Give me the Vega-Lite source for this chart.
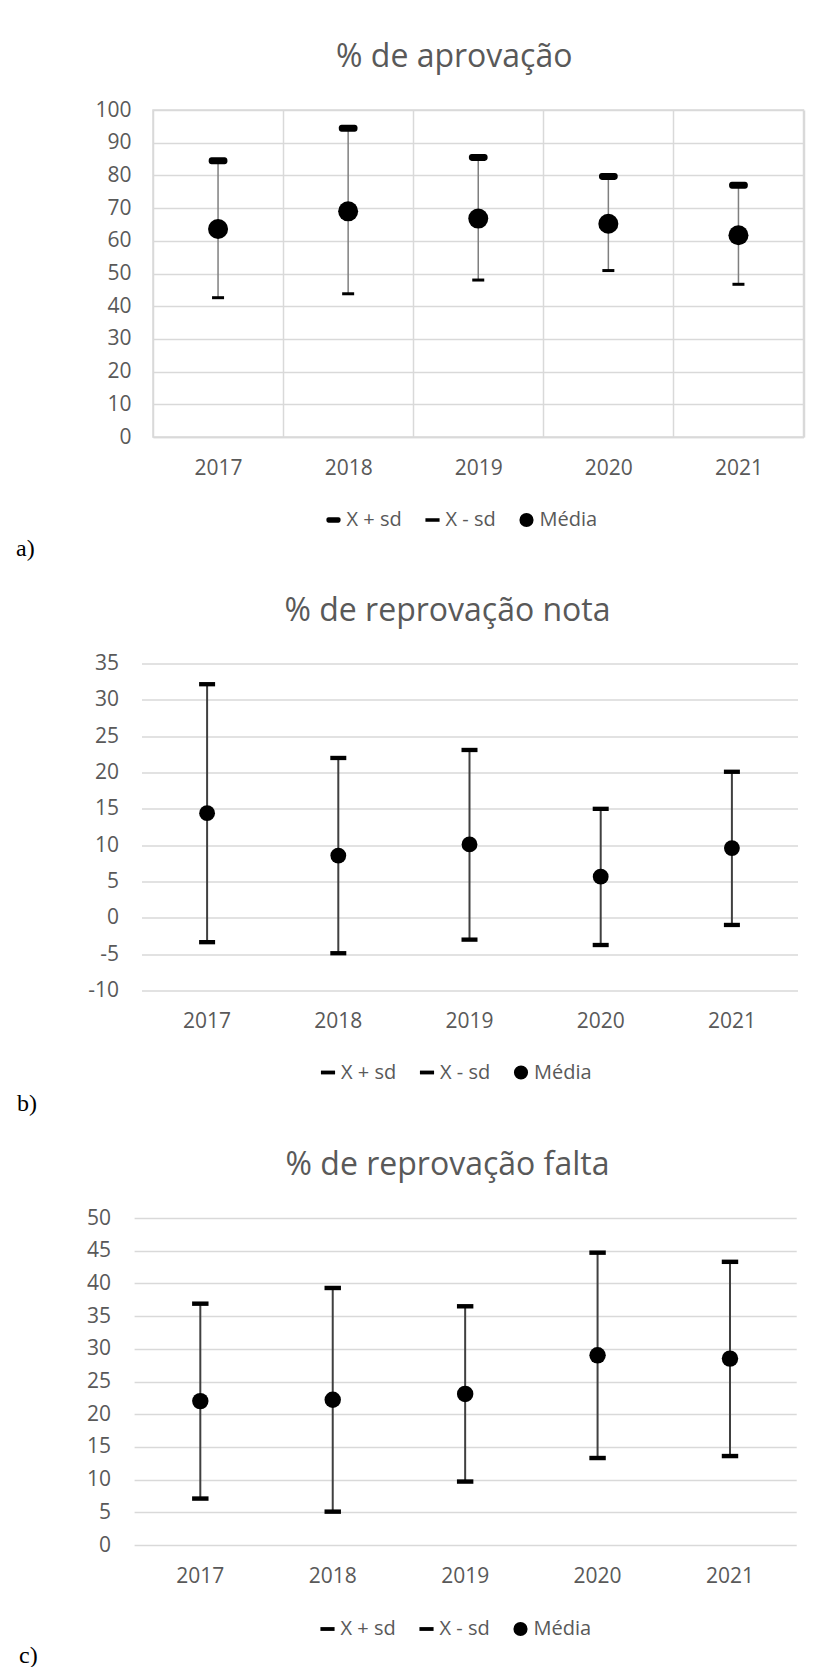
{
  "$schema": "https://vega.github.io/schema/vega-lite/v6.json",
  "padding": {"left": 14, "top": 40, "right": 0, "bottom": 0},
  "background": "white",
  "datasets": {
    "A": [
      {"ano": "2017", "serie": "X + sd", "valor": 84.5}, {"ano": "2017", "serie": "X - sd", "valor": 42.6}, {"ano": "2017", "serie": "Média", "valor": 63.6},
      {"ano": "2018", "serie": "X + sd", "valor": 94.4}, {"ano": "2018", "serie": "X - sd", "valor": 43.8}, {"ano": "2018", "serie": "Média", "valor": 69.0},
      {"ano": "2019", "serie": "X + sd", "valor": 85.5}, {"ano": "2019", "serie": "X - sd", "valor": 48.0}, {"ano": "2019", "serie": "Média", "valor": 66.8},
      {"ano": "2020", "serie": "X + sd", "valor": 79.7}, {"ano": "2020", "serie": "X - sd", "valor": 50.9}, {"ano": "2020", "serie": "Média", "valor": 65.2},
      {"ano": "2021", "serie": "X + sd", "valor": 77.0}, {"ano": "2021", "serie": "X - sd", "valor": 46.7}, {"ano": "2021", "serie": "Média", "valor": 61.7}
    ],
    "B": [
      {"ano": "2017", "serie": "X + sd", "valor": 32.15}, {"ano": "2017", "serie": "X - sd", "valor": -3.35}, {"ano": "2017", "serie": "Média", "valor": 14.4},
      {"ano": "2018", "serie": "X + sd", "valor": 22.0}, {"ano": "2018", "serie": "X - sd", "valor": -4.87}, {"ano": "2018", "serie": "Média", "valor": 8.57},
      {"ano": "2019", "serie": "X + sd", "valor": 23.1}, {"ano": "2019", "serie": "X - sd", "valor": -3.0}, {"ano": "2019", "serie": "Média", "valor": 10.1},
      {"ano": "2020", "serie": "X + sd", "valor": 15.0}, {"ano": "2020", "serie": "X - sd", "valor": -3.74}, {"ano": "2020", "serie": "Média", "valor": 5.66},
      {"ano": "2021", "serie": "X + sd", "valor": 20.1}, {"ano": "2021", "serie": "X - sd", "valor": -0.98}, {"ano": "2021", "serie": "Média", "valor": 9.6}
    ],
    "C": [
      {"ano": "2017", "serie": "X + sd", "valor": 36.9}, {"ano": "2017", "serie": "X - sd", "valor": 7.1}, {"ano": "2017", "serie": "Média", "valor": 22.0},
      {"ano": "2018", "serie": "X + sd", "valor": 39.3}, {"ano": "2018", "serie": "X - sd", "valor": 5.1}, {"ano": "2018", "serie": "Média", "valor": 22.2},
      {"ano": "2019", "serie": "X + sd", "valor": 36.5}, {"ano": "2019", "serie": "X - sd", "valor": 9.7}, {"ano": "2019", "serie": "Média", "valor": 23.1},
      {"ano": "2020", "serie": "X + sd", "valor": 44.7}, {"ano": "2020", "serie": "X - sd", "valor": 13.3}, {"ano": "2020", "serie": "Média", "valor": 29.0},
      {"ano": "2021", "serie": "X + sd", "valor": 43.3}, {"ano": "2021", "serie": "X - sd", "valor": 13.6}, {"ano": "2021", "serie": "Média", "valor": 28.5}
    ]
  },
  "config": {
    "view": {"stroke": null},
    "font": "Open Sans",
    "title": {"font": "Open Sans", "fontSize": 32, "fontWeight": "normal", "color": "#595959", "anchor": "middle", "frame": "group", "baseline": "alphabetic", "offset": 25},
    "axisY": {"domain": false, "ticks": false, "tickSize": 0, "grid": true, "gridColor": "#d9d9d9", "gridWidth": 1.5, "labelColor": "#595959", "labelFont": "Open Sans", "labelFontSize": 21, "labelPadding": 22, "titleAngle": 0, "titleAlign": "left", "titleBaseline": "middle", "titleFont": "Liberation Serif", "titleFontSize": 24, "titleFontWeight": "normal", "titleColor": "black"},
    "axisX": {"labelAngle": 0, "ticks": false, "tickSize": 0, "domain": false, "grid": false, "labelColor": "#595959", "labelFont": "Open Sans", "labelFontSize": 21, "labelPadding": 20},
    "legend": {"orient": "none", "direction": "horizontal", "labelFont": "Open Sans", "labelFontSize": 20, "labelColor": "#595959", "symbolSize": 200, "symbolFillColor": "black", "symbolStrokeColor": "black", "symbolStrokeWidth": 0, "labelOffset": 3, "columnPadding": 20}
  },
  "spacing": 33.5,
  "resolve": {"scale": {"shape": "independent"}, "legend": {"shape": "independent"}},
  "vconcat": [
    {
      "width": 650.5, "height": 327,
      "view": {"stroke": "#d9d9d9", "strokeWidth": 1.5},
      "title": {"text": "% de aprovação", "dx": -24},
      "data": {"name": "A"},
      "encoding": {
        "x": {"field": "ano", "type": "nominal", "title": null, "scale": {"paddingInner": 0, "paddingOuter": 0}, "axis": {"grid": true, "tickBand": "extent", "gridColor": "#d9d9d9", "gridWidth": 1.5, "domain": true, "domainColor": "#d9d9d9", "domainWidth": 1.5}},
        "y": {"field": "valor", "type": "quantitative", "title": "a)", "scale": {"domain": [0, 100], "nice": false, "zero": false}, "axis": {"values": [0, 10, 20, 30, 40, 50, 60, 70, 80, 90, 100], "labelExpr": "'' + datum.value", "titleX": -137.5, "titleY": 438}}
      },
      "layer": [
        {
          "transform": [{"aggregate": [{"op": "min", "field": "valor", "as": "lo"}, {"op": "max", "field": "valor", "as": "hi"}], "groupby": ["ano"]}],
          "mark": {"type": "rule", "color": "#7f7f7f", "strokeWidth": 1.5},
          "encoding": {
            "y": {"field": "lo", "type": "quantitative", "title": "a)", "scale": {"domain": [0, 100], "nice": false, "zero": false}, "axis": {"values": [0, 10, 20, 30, 40, 50, 60, 70, 80, 90, 100], "labelExpr": "'' + datum.value", "titleX": -137.5, "titleY": 438}},
            "y2": {"field": "hi"}
          }
        },
        {
          "transform": [{"filter": "datum.serie === 'X + sd'"}],
          "mark": {"type": "point", "filled": true, "opacity": 1, "color": "black", "strokeWidth": 0, "size": 350},
          "encoding": {"shape": {"field": "serie", "type": "nominal", "scale": {"domain": ["X + sd", "X - sd", "Média"], "range": ["M-0.7,-0.374H0.7A0.3,0.3,0,0,1,1,-0.074V0.074A0.3,0.3,0,0,1,0.7,0.374H-0.7A0.3,0.3,0,0,1,-1,0.074V-0.074A0.3,0.3,0,0,1,-0.7,-0.374Z", "M-1,-0.25H1V0.25H-1Z", "circle"]}, "legend": {"title": null, "legendX": 170.5, "legendY": 400}}}
        },
        {
          "transform": [{"filter": "datum.serie === 'X - sd'"}],
          "mark": {"type": "point", "filled": true, "opacity": 1, "color": "black", "strokeWidth": 0, "size": 144},
          "encoding": {"shape": {"field": "serie", "type": "nominal", "scale": {"domain": ["X + sd", "X - sd", "Média"], "range": ["M-0.7,-0.374H0.7A0.3,0.3,0,0,1,1,-0.074V0.074A0.3,0.3,0,0,1,0.7,0.374H-0.7A0.3,0.3,0,0,1,-1,0.074V-0.074A0.3,0.3,0,0,1,-0.7,-0.374Z", "M-1,-0.25H1V0.25H-1Z", "circle"]}, "legend": {"title": null, "legendX": 170.5, "legendY": 400}}}
        },
        {
          "transform": [{"filter": "datum.serie === 'Média'"}],
          "mark": {"type": "point", "filled": true, "opacity": 1, "color": "black", "strokeWidth": 0, "size": 400},
          "encoding": {"shape": {"field": "serie", "type": "nominal", "scale": {"domain": ["X + sd", "X - sd", "Média"], "range": ["M-0.7,-0.374H0.7A0.3,0.3,0,0,1,1,-0.074V0.074A0.3,0.3,0,0,1,0.7,0.374H-0.7A0.3,0.3,0,0,1,-1,0.074V-0.074A0.3,0.3,0,0,1,-0.7,-0.374Z", "M-1,-0.25H1V0.25H-1Z", "circle"]}, "legend": {"title": null, "legendX": 170.5, "legendY": 400}}}
        }
      ]
    },
    {
      "width": 644.5, "height": 327,
      "title": {"text": "% de reprovação nota", "dx": -27.75},
      "data": {"name": "B"},
      "encoding": {
        "x": {"field": "ano", "type": "nominal", "title": null, "scale": {"paddingInner": 0, "paddingOuter": 0, "range": [-11.5, 644.5]}},
        "y": {"field": "valor", "type": "quantitative", "title": "b)", "scale": {"domain": [-10, 35], "nice": false, "zero": false}, "axis": {"values": [-10, -5, 0, 5, 10, 15, 20, 25, 30, 35], "labelExpr": "'' + datum.value", "labelPadding": 34.5, "titleX": -136.5, "titleY": 440}}
      },
      "layer": [
        {
          "transform": [{"aggregate": [{"op": "min", "field": "valor", "as": "lo"}, {"op": "max", "field": "valor", "as": "hi"}], "groupby": ["ano"]}],
          "mark": {"type": "rule", "color": "#404040", "strokeWidth": 2},
          "encoding": {
            "y": {"field": "lo", "type": "quantitative", "title": "b)", "scale": {"domain": [-10, 35], "nice": false, "zero": false}, "axis": {"values": [-10, -5, 0, 5, 10, 15, 20, 25, 30, 35], "labelExpr": "'' + datum.value", "labelPadding": 34.5, "titleX": -136.5, "titleY": 440}},
            "y2": {"field": "hi"}
          }
        },
        {
          "transform": [{"filter": "datum.serie !== 'Média'"}],
          "mark": {"type": "point", "filled": true, "opacity": 1, "color": "black", "strokeWidth": 0, "size": 256},
          "encoding": {"shape": {"field": "serie", "type": "nominal", "scale": {"domain": ["X + sd", "X - sd", "Média"], "range": ["M-1,-0.27H1V0.27H-1Z", "M-1,-0.27H1V0.27H-1Z", "circle"]}, "legend": {"title": null, "legendX": 165, "legendY": 399}}}
        },
        {
          "transform": [{"filter": "datum.serie === 'Média'"}],
          "mark": {"type": "point", "filled": true, "opacity": 1, "color": "black", "strokeWidth": 0, "size": 250},
          "encoding": {"shape": {"field": "serie", "type": "nominal", "scale": {"domain": ["X + sd", "X - sd", "Média"], "range": ["M-1,-0.27H1V0.27H-1Z", "M-1,-0.27H1V0.27H-1Z", "circle"]}, "legend": {"title": null, "legendX": 165, "legendY": 399}}}
        }
      ]
    },
    {
      "width": 643.2, "height": 327,
      "title": {"text": "% de reprovação falta", "dx": -27.1},
      "data": {"name": "C"},
      "encoding": {
        "x": {"field": "ano", "type": "nominal", "title": null, "scale": {"paddingInner": 0, "paddingOuter": 0, "range": [-18.9, 643.2]}},
        "y": {"field": "valor", "type": "quantitative", "title": "c)", "scale": {"domain": [0, 50], "nice": false, "zero": false}, "axis": {"values": [0, 5, 10, 15, 20, 25, 30, 35, 40, 45, 50], "labelExpr": "'' + datum.value", "labelPadding": 42.5, "titleX": -134.5, "titleY": 437}}
      },
      "layer": [
        {
          "transform": [{"aggregate": [{"op": "min", "field": "valor", "as": "lo"}, {"op": "max", "field": "valor", "as": "hi"}], "groupby": ["ano"]}],
          "mark": {"type": "rule", "color": "#404040", "strokeWidth": 2},
          "encoding": {
            "y": {"field": "lo", "type": "quantitative", "title": "c)", "scale": {"domain": [0, 50], "nice": false, "zero": false}, "axis": {"values": [0, 5, 10, 15, 20, 25, 30, 35, 40, 45, 50], "labelExpr": "'' + datum.value", "labelPadding": 42.5, "titleX": -134.5, "titleY": 437}},
            "y2": {"field": "hi"}
          }
        },
        {
          "transform": [{"filter": "datum.serie !== 'Média'"}],
          "mark": {"type": "point", "filled": true, "opacity": 1, "color": "black", "strokeWidth": 0, "size": 270},
          "encoding": {"shape": {"field": "serie", "type": "nominal", "scale": {"domain": ["X + sd", "X - sd", "Média"], "range": ["M-1,-0.27H1V0.27H-1Z", "M-1,-0.27H1V0.27H-1Z", "circle"]}, "legend": {"title": null, "legendX": 164.5, "legendY": 401}}}
        },
        {
          "transform": [{"filter": "datum.serie === 'Média'"}],
          "mark": {"type": "point", "filled": true, "opacity": 1, "color": "black", "strokeWidth": 0, "size": 270},
          "encoding": {"shape": {"field": "serie", "type": "nominal", "scale": {"domain": ["X + sd", "X - sd", "Média"], "range": ["M-1,-0.27H1V0.27H-1Z", "M-1,-0.27H1V0.27H-1Z", "circle"]}, "legend": {"title": null, "legendX": 164.5, "legendY": 401}}}
        }
      ]
    }
  ]
}
